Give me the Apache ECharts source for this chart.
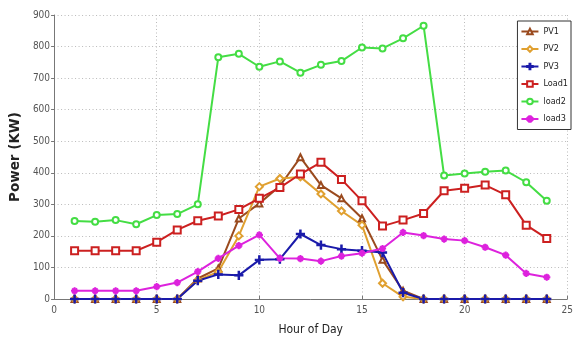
<!DOCTYPE html>
<html><head><meta charset="utf-8">
<script src="https://cdn.jsdelivr.net/npm/echarts@6/dist/echarts.min.js"></script>
<style>html,body{margin:0;padding:0;background:#fff}#c{width:576px;height:342px}</style>
</head><body><div id="c"></div>
<script>
const hours = [1,2,3,4,5,6,7,8,9,10,11,12,13,14,15,16,17,18,19,20,21,22,23,24];
const pv1   = [0,0,0,0,0,0,65,97,255,303,358,449,361,319,256,124,26,0,0,0,0,0,0,0];
const pv2   = [0,0,0,0,0,0,60,86,200,356,382,387,333,279,234,50,7,0,0,0,0,0,0,0];
const pv3   = [0,0,0,0,0,0,58,78,75,124,126,206,171,158,153,147,20,0,0,0,0,0,0,0];
const load1 = [153,153,153,153,180,219,248,263,284,319,353,396,433,379,311,231,250,271,343,351,361,330,234,192];
const load2 = [247,245,250,237,266,269,300,766,777,736,753,717,742,754,797,794,826,866,391,398,403,407,370,311];
const load3 = [26,26,26,26,39,52,87,129,169,203,129,128,120,136,145,160,211,201,190,185,164,139,81,69];
const yTicks = [0,100,200,300,400,500,600,700,800,900];
const xTicks = [0,5,10,15,20,25];

const plus = 'path://M4.2,0h1.6v10h-1.6zM0,4.2h10v1.6h-10z';
const star = 'path://M4.3,0h1.4v10h-1.4zM0,4.3h10v1.4h-10zM1.2,2.2l1,-1l6.6,6.6l-1,1zM7.8,1.2l1,1l-6.6,6.6l-1,-1z';
function pts(v){return hours.map((h,i)=>[h,v[i]]);}
function s(name, data, color, symbol, size){
  return {name, type:'line', data:pts(data), symbol, symbolSize:size,
    lineStyle:{color, width:2}, itemStyle:{color, borderColor:color, borderWidth:1.2},
    animation:false, z: 2};
}
const chart = echarts.init(document.getElementById('c'));
const narrow = '"DejaVu Sans Condensed", "Liberation Sans Narrow", "Liberation Sans", sans-serif';
chart.setOption({
  backgroundColor:'#fff',
  animation:false,
  grid:{left:34, right:3, top:15, bottom:43},
  legend:{
    orient:'vertical', right:5, top:21, itemWidth:17, itemHeight:7, itemGap:8.5,
    backgroundColor:'#fff', borderColor:'#333', borderWidth:1, padding:[6,3,6,3],
    textStyle:{fontFamily:narrow, fontSize:9, color:'#222'},
    data:['PV1','PV2','PV3','Load1','load2','load3']
  },
  xAxis:{
    type:'value', min:xTicks[0], max:xTicks[xTicks.length-1], interval:5,
    name:'Hour of Day', nameLocation:'middle', nameGap:25,
    nameTextStyle:{fontFamily:narrow, fontSize:12, color:'#222'},
    axisLine:{lineStyle:{color:'#777'}}, axisTick:{inside:true, length:3, lineStyle:{color:'#777'}},
    axisLabel:{fontFamily:narrow, fontSize:10, color:'#555', margin:6},
    splitLine:{show:true, lineStyle:{color:'#bbb', type:[1,2.5], width:1}}
  },
  yAxis:{
    type:'value', min:yTicks[0], max:yTicks[yTicks.length-1], interval:100,
    name:'Power (KW)', nameLocation:'middle', nameGap:20,
    nameTextStyle:{fontFamily:'"DejaVu Sans", sans-serif', fontWeight:'bold', fontSize:13.5, color:'#222'},
    axisLine:{show:true, lineStyle:{color:'#777'}}, axisTick:{show:true, length:3, lineStyle:{color:'#777'}},
    axisLabel:{fontFamily:narrow, fontSize:10, color:'#555', margin:4},
    splitLine:{show:true, lineStyle:{color:'#bbb', type:[1,2.5], width:1}}
  },
  series:[
    s('PV1', pv1, '#9a4a1e', 'emptyTriangle', 6),
    s('PV2', pv2, '#e0a030', 'emptyDiamond', 7),
    s('PV3', pv3, '#1a1aaa', plus, 8),
    s('Load1', load1, '#cc2020', 'emptyRect', 7),
    s('load2', load2, '#44dd44', 'emptyCircle', 6),
    s('load3', load3, '#dd22dd', star, 6)
  ]
});
</script></body></html>
